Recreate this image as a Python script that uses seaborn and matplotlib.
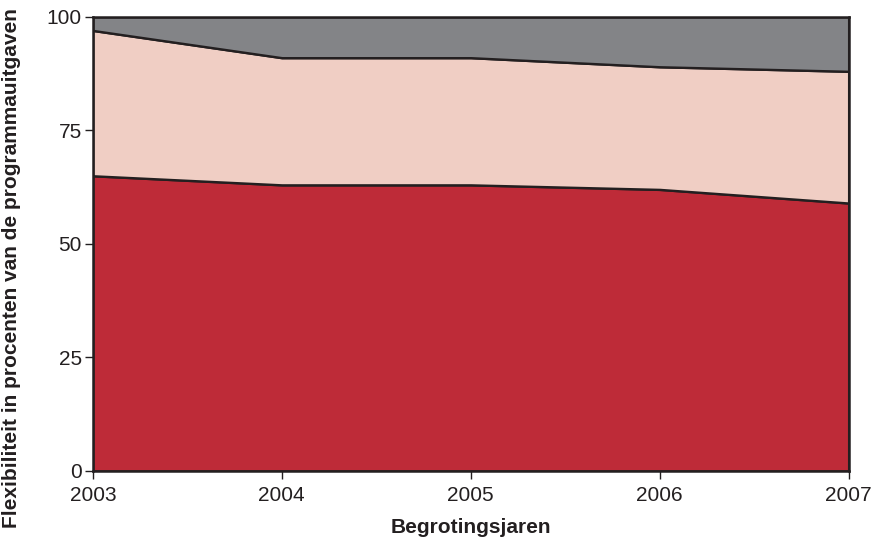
import matplotlib
matplotlib.use("Agg")
import matplotlib.pyplot as plt
import seaborn as sns

# Share of programme spending per flexibility layer (percent)
years = [2003, 2004, 2005, 2006, 2007]
bottom_share = [65, 63, 63, 62, 59]
middle_share = [32, 28, 28, 27, 29]
top_share = [3, 9, 9, 11, 12]

colors = ['#be2b38', '#f0cec4', '#838487']
dark = '#231f20'

sns.set_theme(style='ticks')
plt.rcParams['font.family'] = ['Liberation Sans', 'DejaVu Sans']

fig = plt.figure(figsize=(8.84, 5.42), dpi=100)
ax = fig.add_axes([0.105, 0.131, 0.855, 0.838])

ax.stackplot(years, bottom_share, middle_share, top_share, colors=colors,
             edgecolor=dark, linewidth=1.7)

ax.set_xlim(2003, 2007)
ax.set_ylim(0, 100)
ax.set_xticks(years)
ax.set_yticks([0, 25, 50, 75, 100])

for s in ax.spines.values():
    s.set_color(dark)
    s.set_linewidth(1.8)

ax.tick_params(axis='both', which='major', length=6, width=1, color=dark,
               labelsize=15, labelcolor=dark)
ax.tick_params(axis='x', pad=5)
ax.tick_params(axis='y', pad=2)

ax.set_xlabel('Begrotingsjaren', fontsize=15, fontweight='bold', color=dark)
ax.set_ylabel('Flexibiliteit in procenten van de programmauitgaven', fontsize=15,
              fontweight='bold', color=dark)
ax.xaxis.set_label_coords(0.5, -0.104)
ax.yaxis.set_label_coords(-0.095, 0.447)

fig.savefig('out.png', dpi=100)
